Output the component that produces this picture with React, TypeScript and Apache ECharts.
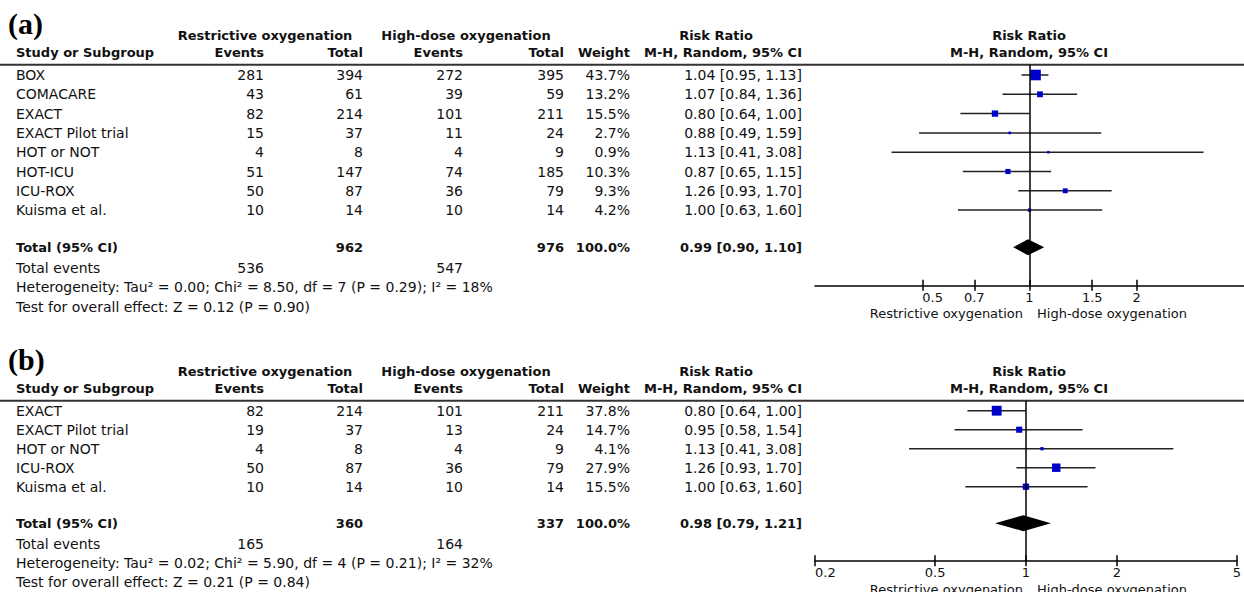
import React, { useEffect, useRef } from "react";
import * as echarts from "echarts";

// ---------------- Panel (a) ----------------
const studiesA = ["BOX", "COMACARE", "EXACT", "EXACT Pilot trial", "HOT or NOT", "HOT-ICU", "ICU-ROX", "Kuisma et al."];
const restrictiveEventsA = [281, 43, 82, 15, 4, 51, 50, 10];
const restrictiveTotalA = [394, 61, 214, 37, 8, 147, 87, 14];
const highDoseEventsA = [272, 39, 101, 11, 4, 74, 36, 10];
const highDoseTotalA = [395, 59, 211, 24, 9, 185, 79, 14];
const weightA = [43.7, 13.2, 15.5, 2.7, 0.9, 10.3, 9.3, 4.2];
const riskRatioA = [1.04, 1.07, 0.8, 0.88, 1.13, 0.87, 1.26, 1.0];
const ciLowA = [0.95, 0.84, 0.64, 0.49, 0.41, 0.65, 0.93, 0.63];
const ciHighA = [1.13, 1.36, 1.0, 1.59, 3.08, 1.15, 1.7, 1.6];
const totalsA = [962, 976]; // restrictive, high-dose participants
const totalEventsA = [536, 547];
const pooledA = [0.99, 0.9, 1.1]; // RR, low, high
const heterogeneityA = ["0.00", "8.50", "7", "0.29", "18"]; // Tau², Chi², df, P, I²
const overallEffectA = ["0.12", "0.90"]; // Z, P
const axisTicksA = [0.5, 0.7, 1, 1.5, 2];
const axisRangeA = [0.25, 4];

// ---------------- Panel (b) ----------------
const studiesB = ["EXACT", "EXACT Pilot trial", "HOT or NOT", "ICU-ROX", "Kuisma et al."];
const restrictiveEventsB = [82, 19, 4, 50, 10];
const restrictiveTotalB = [214, 37, 8, 87, 14];
const highDoseEventsB = [101, 13, 4, 36, 10];
const highDoseTotalB = [211, 24, 9, 79, 14];
const weightB = [37.8, 14.7, 4.1, 27.9, 15.5];
const riskRatioB = [0.8, 0.95, 1.13, 1.26, 1.0];
const ciLowB = [0.64, 0.58, 0.41, 0.93, 0.63];
const ciHighB = [1.0, 1.54, 3.08, 1.7, 1.6];
const totalsB = [360, 337];
const totalEventsB = [165, 164];
const pooledB = [0.98, 0.79, 1.21];
const heterogeneityB = ["0.02", "5.90", "4", "0.21", "32"];
const overallEffectB = ["0.21", "0.84"];
const axisTicksB = [0.2, 0.5, 1, 2, 5];
const axisRangeB = [0.2, 5];

// ---------------- Layout ----------------
const W = 1244;
const H = 592;
const FF = "'DejaVu Sans', sans-serif";
const REG = `14px ${FF}`;
const BOLD = `bold 13px ${FF}`;
const SMALL = `13px ${FF}`;
const TEXT = "#111";
const COL = {
  study: 16, rEvents: 264, rTotal: 363, hEvents: 463, hTotal: 564, weight: 630, ci: 802,
  rGroup: 265, hGroup: 466, rrHead: 716, forestMid: 1029, forestLeft: 815,
};

type Panel = {
  title: string; studies: string[]; rE: number[]; rT: number[]; hE: number[]; hT: number[];
  w: number[]; rr: number[]; lo: number[]; hi: number[]; totals: number[]; events: number[];
  pooled: number[]; het: string[]; overall: string[]; ticks: number[]; range: number[];
  row0: number; step: number;
};

const panels: Panel[] = [
  {
    title: "(a)", studies: studiesA, rE: restrictiveEventsA, rT: restrictiveTotalA, hE: highDoseEventsA,
    hT: highDoseTotalA, w: weightA, rr: riskRatioA, lo: ciLowA, hi: ciHighA, totals: totalsA,
    events: totalEventsA, pooled: pooledA, het: heterogeneityA, overall: overallEffectA,
    ticks: axisTicksA, range: axisRangeA, row0: 75, step: 19.3,
  },
  {
    title: "(b)", studies: studiesB, rE: restrictiveEventsB, rT: restrictiveTotalB, hE: highDoseEventsB,
    hT: highDoseTotalB, w: weightB, rr: riskRatioB, lo: ciLowB, hi: ciHighB, totals: totalsB,
    events: totalEventsB, pooled: pooledB, het: heterogeneityB, overall: overallEffectB,
    ticks: axisTicksB, range: axisRangeB, row0: 410.7, step: 19.0,
  },
];

const ROW = { group: -2.05, colHead: -1.15, rule: -0.53 };
const totalRow = (n: number) => n - 1 + 1.92;
const axisRow = (n: number) => n - 1 + 3.92;

function txt(text: string, x: number, y: number, align: string, font: string, color = TEXT) {
  return {
    type: "text", x, y, silent: true,
    style: { text, font, fill: color, align, verticalAlign: "middle", textAlign: align, textVerticalAlign: "middle" },
  };
}

const fmtCI = (r: number, l: number, h: number) => `${r.toFixed(2)} [${l.toFixed(2)}, ${h.toFixed(2)}]`;

function tableRender(p: Panel) {
  return (_params: any, api: any) => {
    const row = api.value(1) as number;
    const kind = api.value(2) as number;
    const i = api.value(3) as number;
    const y = api.coord([0, row])[1];
    const X = (px: number) => api.coord([px, row])[0];
    const kids: any[] = [];
    if (kind === 0) {
      kids.push(txt(p.studies[i], X(COL.study), y, "left", REG));
      kids.push(txt(String(p.rE[i]), X(COL.rEvents), y, "right", REG));
      kids.push(txt(String(p.rT[i]), X(COL.rTotal), y, "right", REG));
      kids.push(txt(String(p.hE[i]), X(COL.hEvents), y, "right", REG));
      kids.push(txt(String(p.hT[i]), X(COL.hTotal), y, "right", REG));
      kids.push(txt(`${p.w[i].toFixed(1)}%`, X(COL.weight), y, "right", REG));
      kids.push(txt(fmtCI(p.rr[i], p.lo[i], p.hi[i]), X(COL.ci), y, "right", REG));
    } else if (kind === 1) {
      kids.push(txt(p.title, X(8), y - 12, "left", "bold 30px 'Liberation Serif', serif", "#000"));
      kids.push(txt("Restrictive oxygenation", X(COL.rGroup), y, "center", BOLD));
      kids.push(txt("High-dose oxygenation", X(COL.hGroup), y, "center", BOLD));
      kids.push(txt("Risk Ratio", X(COL.rrHead), y, "center", BOLD));
      kids.push(txt("Risk Ratio", X(COL.forestMid), y, "center", BOLD));
    } else if (kind === 2) {
      kids.push(txt("Study or Subgroup", X(COL.study), y, "left", BOLD));
      kids.push(txt("Events", X(COL.rEvents), y, "right", BOLD));
      kids.push(txt("Total", X(COL.rTotal), y, "right", BOLD));
      kids.push(txt("Events", X(COL.hEvents), y, "right", BOLD));
      kids.push(txt("Total", X(COL.hTotal), y, "right", BOLD));
      kids.push(txt("Weight", X(COL.weight), y, "right", BOLD));
      kids.push(txt("M-H, Random, 95% CI", X(COL.ci), y, "right", BOLD));
      kids.push(txt("M-H, Random, 95% CI", X(COL.forestMid), y, "center", BOLD));
    } else if (kind === 3) {
      kids.push({ type: "line", silent: true, shape: { x1: X(0), y1: y, x2: X(W), y2: y }, style: { stroke: "#333", lineWidth: 2 } });
    } else if (kind === 4) {
      kids.push(txt("Total (95% CI)", X(COL.study), y, "left", BOLD));
      kids.push(txt(String(p.totals[0]), X(COL.rTotal), y, "right", BOLD));
      kids.push(txt(String(p.totals[1]), X(COL.hTotal), y, "right", BOLD));
      kids.push(txt("100.0%", X(COL.weight), y, "right", BOLD));
      kids.push(txt(fmtCI(p.pooled[0], p.pooled[1], p.pooled[2]), X(COL.ci), y, "right", BOLD));
    } else if (kind === 5) {
      kids.push(txt("Total events", X(COL.study), y, "left", REG));
      kids.push(txt(String(p.events[0]), X(COL.rEvents), y, "right", REG));
      kids.push(txt(String(p.events[1]), X(COL.hEvents), y, "right", REG));
    } else if (kind === 6) {
      const [tau, chi, df, pv, i2] = p.het;
      kids.push(txt(`Heterogeneity: Tau² = ${tau}; Chi² = ${chi}, df = ${df} (P = ${pv}); I² = ${i2}%`, X(COL.study), y, "left", REG));
    } else if (kind === 7) {
      const [z, pv] = p.overall;
      kids.push(txt(`Test for overall effect: Z = ${z} (P = ${pv})`, X(COL.study), y, "left", REG));
    } else if (kind === 8) {
      kids.push(txt("Restrictive oxygenation", X(COL.forestMid - 6), y + 28, "right", SMALL));
      kids.push(txt("High-dose oxygenation", X(COL.forestMid + 8), y + 28, "left", SMALL));
    }
    return { type: "group", children: kids };
  };
}

function forestRender(_params: any, api: any) {
  const rr = api.value(0);
  const row = api.value(1);
  const lo = api.value(2);
  const hi = api.value(3);
  const w = api.value(4);
  const pooled = api.value(5);
  const c = api.coord([rr, row]);
  const l = api.coord([lo, row]);
  const h = api.coord([hi, row]);
  if (pooled) {
    return {
      type: "polygon",
      shape: { points: [[l[0], c[1]], [c[0], c[1] - 8], [h[0], c[1]], [c[0], c[1] + 8]] },
      style: { fill: "#000" },
    };
  }
  const s = Math.max(2.5, 1.6 * Math.sqrt(w));
  return {
    type: "group",
    children: [
      { type: "line", shape: { x1: l[0], y1: c[1], x2: h[0], y2: c[1] }, style: { stroke: "#222", lineWidth: 1.5 } },
      { type: "rect", shape: { x: c[0] - s / 2, y: c[1] - s / 2, width: s, height: s }, style: { fill: "#0000cc" } },
    ],
  };
}

function buildOption() {
  const grid: any[] = [];
  const xAxis: any[] = [];
  const yAxis: any[] = [];
  const series: any[] = [];
  panels.forEach((p) => {
    const n = p.studies.length;
    const tMin = -3;
    const tMax = n - 1 + 5.2;
    const gTable = grid.length;
    grid.push({ left: 0, width: W, top: p.row0 + tMin * p.step, height: (tMax - tMin) * p.step });
    const fMin = ROW.rule;
    const fMax = axisRow(n);
    const gForest = grid.length;
    grid.push({ left: COL.forestLeft, width: W - COL.forestLeft, top: p.row0 + fMin * p.step, height: (fMax - fMin) * p.step });

    const xT = xAxis.length;
    xAxis.push({ type: "value", gridIndex: gTable, min: 0, max: W, show: false });
    const xF = xAxis.length;
    const tickLine = { color: "#000", width: 1.5 };
    xAxis.push({
      type: "log", gridIndex: gForest, min: p.range[0], max: p.range[1], position: "bottom",
      axisLine: { show: true, onZero: false, lineStyle: tickLine },
      axisTick: { show: true, customValues: p.ticks, length: 5, lineStyle: tickLine },
      axisLabel: {
        customValues: p.ticks, fontSize: 13, fontFamily: FF, color: TEXT, margin: 5,
        formatter: (v: number) => String(Math.round(v * 100) / 100),
        alignMinLabel: "left",
      },
      splitLine: { show: false },
      minorTick: { show: false },
    });
    xAxis.push({
      type: "log", gridIndex: gForest, min: p.range[0], max: p.range[1], position: "bottom",
      axisLine: { show: false, onZero: false },
      axisTick: { show: true, inside: true, customValues: p.ticks, length: 6, lineStyle: tickLine },
      axisLabel: { show: false },
      splitLine: { show: false },
    });
    const yT = yAxis.length;
    yAxis.push({ type: "value", gridIndex: gTable, min: tMin, max: tMax, inverse: true, show: false });
    const yF = yAxis.length;
    yAxis.push({ type: "value", gridIndex: gForest, min: fMin, max: fMax, inverse: true, show: false });

    const tableData: number[][] = [
      [0, ROW.group, 1, 0],
      [0, ROW.colHead, 2, 0],
      [0, ROW.rule, 3, 0],
      ...p.studies.map((_, i) => [0, i, 0, i]),
      [0, totalRow(n), 4, 0],
      [0, n - 1 + 3, 5, 0],
      [0, n - 1 + 4, 6, 0],
      [0, n - 1 + 5, 7, 0],
      [0, axisRow(n), 8, 0],
    ];
    series.push({
      type: "custom", xAxisIndex: xT, yAxisIndex: yT, clip: false, silent: true,
      renderItem: tableRender(p), data: tableData,
    });
    const forestData: number[][] = [
      ...p.studies.map((_, i) => [p.rr[i], i, p.lo[i], p.hi[i], p.w[i], 0]),
      [p.pooled[0], totalRow(n), p.pooled[1], p.pooled[2], 100, 1],
    ];
    series.push({
      type: "custom", xAxisIndex: xF, yAxisIndex: yF, clip: false, silent: true, z: 3,
      encode: { x: [0, 2, 3], y: 1 },
      renderItem: forestRender, data: forestData,
      markLine: {
        silent: true, symbol: ["none", "none"], label: { show: false },
        lineStyle: { color: "#000", width: 1.5, type: "solid" },
        data: [{ xAxis: 1 }],
      },
    });
  });
  return { animation: false, backgroundColor: "#fff", grid, xAxis, yAxis, series };
}

export default function App() {
  const ref = useRef<HTMLDivElement>(null);
  useEffect(() => {
    if (!ref.current) return;
    const chart = echarts.init(ref.current, null, { renderer: "svg" });
    chart.setOption(buildOption() as any);
    return () => chart.dispose();
  }, []);
  return <div ref={ref} style={{ position: "fixed", left: 0, top: 0, width: W, height: H, background: "#fff" }} />;
}
